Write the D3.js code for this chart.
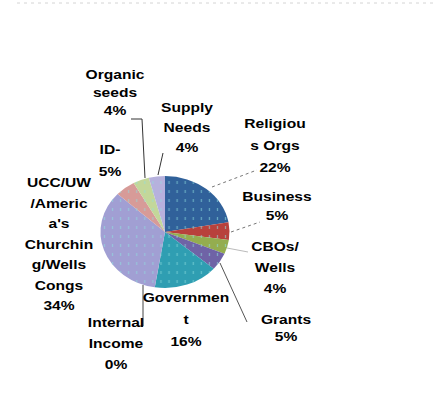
<!DOCTYPE html>
<meta charset="utf-8">
<title>Income sources pie</title>
<style>
    body {
        margin: 0;
        background: #fff;
    }
    .lbl {
        font: bold 12px "Liberation Sans", Arial, sans-serif;
        fill: #000;
    }
</style>

<body>
    <div id="chart"></div>
    <script src="https://cdn.jsdelivr.net/npm/d3@7"></script>
    <script>
        // slices, clockwise from 12 o'clock
        var categories = ["Religious Orgs", "Business", "CBOs/NGO Wells", "Grants", "Government",
            "Internal Income", "UCC/UW/America's Churches/Wells Congs", "ID-", "Organic seeds", "Supply Needs"];
        var values = [22, 5, 4, 5, 16, 0, 34, 5, 4, 4];
        var percentLabels = ["22%", "5%", "4%", "5%", "16%", "0%", "34%", "5%", "4%", "4%"];
        // label text as wrapped in the chart (last line is the percent)
        var labelLines = [
            ["Religiou", "s Orgs"],
            ["Business"],
            ["CBOs/", "Wells"],
            ["Grants"],
            ["Governmen", "t"],
            ["Internal", "Income"],
            ["UCC/UW", "/Americ", "a's", "Churchin", "g/Wells", "Congs"],
            ["ID-"],
            ["Organic", "seeds"],
            ["Supply", "Needs"]
        ];
        var colors = ["#30619a", "#b8413c", "#94ad4f", "#6f63a6", "#2f9eb2",
            "#e9893a", "#a19fd3", "#d79b98", "#c3d79a", "#b6b1dd"];

        var width = 440, height = 410;
        var cx = 165, cy = 232, ry = 56, rx = 64.5;

        var svg = d3.select("#chart")
            .append("svg")
            .attr("width", width)
            .attr("height", height);

        // faint dashed border at top
        svg.append("line")
            .attr("x1", 17).attr("x2", 437)
            .attr("y1", 3).attr("y2", 3)
            .attr("stroke", "#d4d4d4")
            .attr("stroke-dasharray", "3,4");

        var pie = d3.pie().sort(null).value(function(d) { return d; });
        var arcs = pie(values);
        var arc = d3.arc().innerRadius(0).outerRadius(ry);

        // dotted texture like the original fill
        var defs = svg.append("defs");
        var pat = defs.append("pattern")
            .attr("id", "dots")
            .attr("patternUnits", "userSpaceOnUse")
            .attr("width", 7).attr("height", 9);
        pat.append("rect").attr("x", 3).attr("y", 3).attr("width", 1).attr("height", 3)
            .attr("fill", "#8fe0e0").attr("opacity", 0.6);

        var g = svg.append("g")
            .attr("transform", "translate(" + cx + "," + cy + ") scale(" + (rx / ry) + ",1)");

        g.selectAll("path.slice")
            .data(arcs.filter(function(d) { return d.value > 0; }))
            .enter()
            .append("path")
            .attr("class", "slice")
            .attr("d", arc)
            .attr("fill", function(d) { return colors[d.index]; });

        g.selectAll("path.tex")
            .data(arcs.filter(function(d) { return d.value > 0; }))
            .enter()
            .append("path")
            .attr("class", "tex")
            .attr("d", arc)
            .attr("fill", "url(#dots)");

        // label anchor positions (centre x, first line y) and line step
        var labelPos = [
            [275, 128, 22], [277, 201, 19], [275, 251, 21], [286, 324, 17], [186, 302, 22],
            [116, 327, 21], [59, 187, 20.5], [110, 154, 22], [115, 79, 18], [187, 112, 20]
        ];

        // leader lines
        var leaders = [
            {pts: [[212, 187], [257, 170]], dash: "3,3", c: "#777"},
            {pts: [[231, 232], [260, 222]], dash: "3,3", c: "#777"},
            {pts: [[227, 248], [248, 252]], dash: null, c: "#bbb"},
            {pts: [[220, 263], [247, 322]], dash: null, c: "#555"},
            {pts: [[143, 285], [143, 326], [138, 326]], dash: null, c: "#444"},
            {pts: [[131, 119], [142, 119], [145, 178]], dash: null, c: "#333"},
            {pts: [[163, 153], [158, 175]], dash: null, c: "#333"}
        ];
        var line = d3.line();
        svg.selectAll("path.leader")
            .data(leaders)
            .enter()
            .append("path")
            .attr("class", "leader")
            .attr("d", function(d) { return line(d.pts); })
            .attr("fill", "none")
            .attr("stroke", function(d) { return d.c; })
            .attr("stroke-width", 1)
            .attr("stroke-dasharray", function(d) { return d.dash; });

        // labels
        labelLines.forEach(function(lines, i) {
            var p = labelPos[i];
            var all = lines.concat([percentLabels[i]]);
            all.forEach(function(t, j) {
                svg.append("text")
                    .attr("class", "lbl")
                    .attr("text-anchor", "middle")
                    .attr("transform", "translate(" + p[0] + "," + (p[1] + j * p[2]) + ") scale(1.3,1)")
                    .text(t);
            });
        });
    </script>
</body>
